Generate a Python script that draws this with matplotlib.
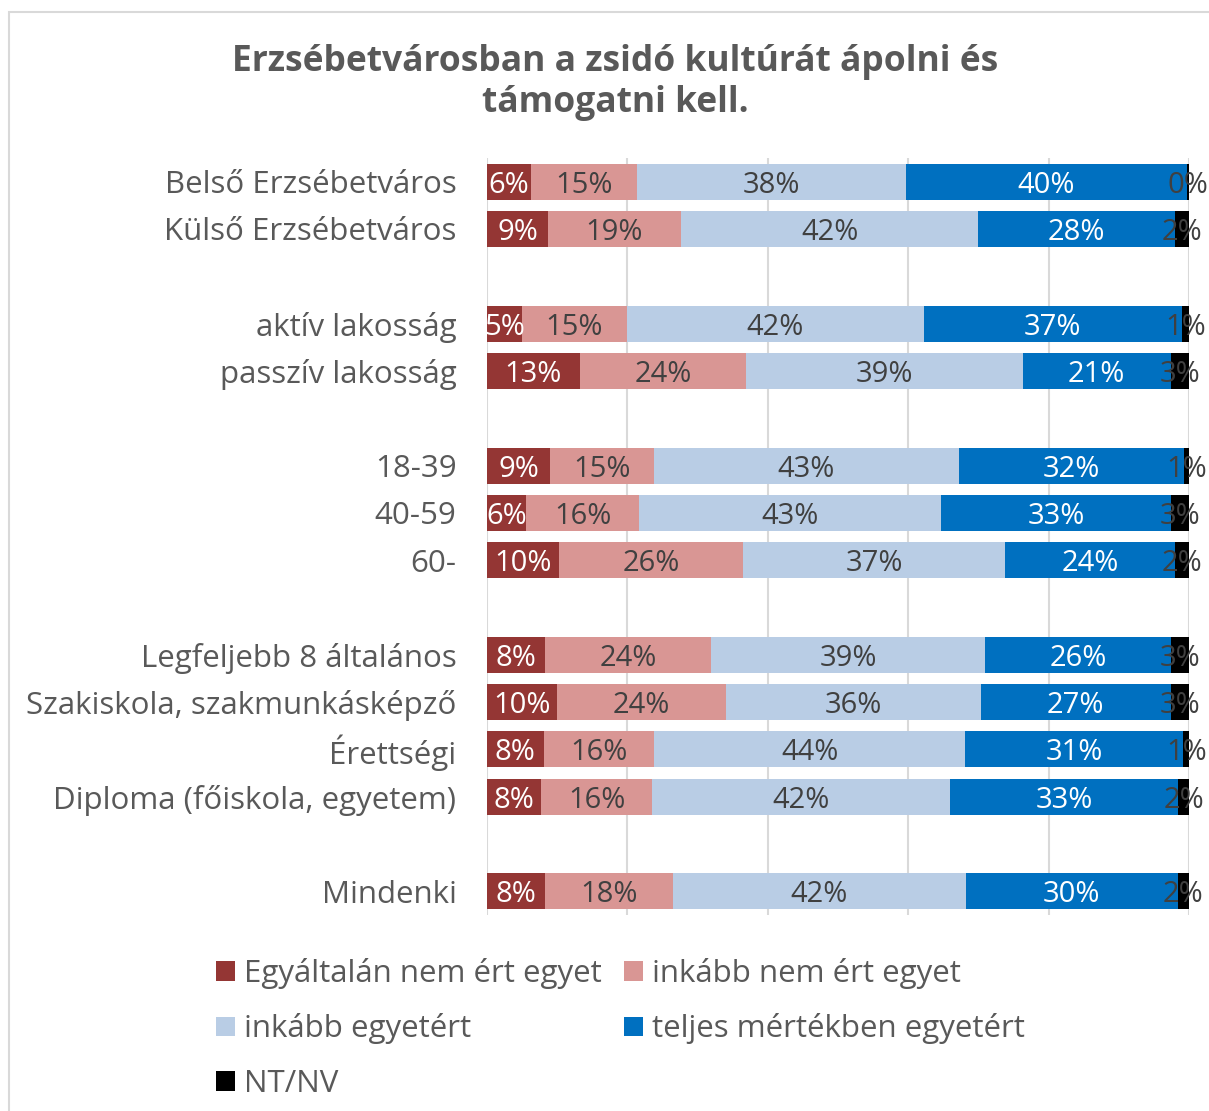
import matplotlib.pyplot as plt
from matplotlib.patches import Rectangle

plt.rcParams['font.family'] = ['Open Sans', 'DejaVu Sans']

# categories, top to bottom, with their row slots (gaps between groups)
categories = ['Belső Erzsébetváros', 'Külső Erzsébetváros',
              'aktív lakosság', 'passzív lakosság',
              '18-39', '40-59', '60-',
              'Legfeljebb 8 általános', 'Szakiskola, szakmunkásképző',
              'Érettségi', 'Diploma (főiskola, egyetem)',
              'Mindenki']
rows = [0, 1, 3, 4, 6, 7, 8, 10, 11, 12, 13, 15]

series = ['Egyáltalán nem ért egyet', 'inkább nem ért egyet',
          'inkább egyetért', 'teljes mértékben egyetért', 'NT/NV']

nem_egyaltalan = [6.3, 8.7, 5.0, 13.2, 9.0, 5.6, 10.3, 8.3, 10.0, 8.1, 7.7, 8.3]
inkabb_nem = [15.1, 18.9, 14.9, 23.7, 14.8, 16.1, 26.2, 23.6, 24.0, 15.7, 15.8, 18.2]
inkabb_igen = [38.3, 42.4, 42.3, 39.4, 43.4, 43.0, 37.3, 39.1, 36.3, 44.3, 42.4, 41.7]
teljesen = [40.0, 28.0, 36.8, 21.1, 32.1, 32.7, 24.2, 26.4, 27.1, 31.1, 32.6, 30.2]
nt_nv = [0.3, 2.0, 1.0, 2.6, 0.7, 2.6, 2.0, 2.6, 2.6, 0.9, 1.5, 1.6]

colors = ['#943634', '#D99694', '#B9CDE5', '#0070C0', '#000000']
text_colors = ['white', '#404040', '#404040', 'white', '#404040']
grey = '#595959'

fig = plt.figure(figsize=(12.09, 11.11), dpi=100)
ax = fig.add_axes([487 / 1209, 1 - 915 / 1111, 702 / 1209, 757 / 1111])

data = [nem_egyaltalan, inkabb_nem, inkabb_igen, teljesen, nt_nv]
left = [0.0] * len(categories)
handles = []
for k, vals in enumerate(data):
    bars = ax.barh(rows, vals, left=left, height=0.76, color=colors[k],
                   linewidth=0, label=series[k], zorder=2)
    handles.append(bars)
    for r, v, l in zip(rows, vals, left):
        ax.text(l + v / 2, r, f'{round(v)}%', ha='center', va='center_baseline',
                fontsize=21, color=text_colors[k], zorder=3)
    left = [a + b for a, b in zip(left, vals)]

ax.set_xlim(0, 100)
ax.set_ylim(15.5, -0.5)
ax.set_xticks([0, 20, 40, 60, 80, 100])
ax.xaxis.grid(True, color='#d9d9d9', linewidth=1.5, zorder=0)
ax.tick_params(axis='x', length=0, labelbottom=False)
ax.set_yticks(rows)
ax.set_yticklabels(categories, fontsize=22.5, color=grey, va='center_baseline')
ax.tick_params(axis='y', length=0, pad=22)
for s in ax.spines.values():
    s.set_visible(False)

fig.text(0.509, 0.926, 'Erzsébetvárosban a zsidó kultúrát ápolni és\ntámogatni kell.',
         ha='center', va='center', fontsize=25.5, fontweight='bold', color=grey,
         linespacing=1.2)

order = [0, 2, 4, 1, 3]
fig.legend([handles[i] for i in order], [series[i] for i in order],
           loc='upper left', bbox_to_anchor=(188 / 1209, 1 - 930 / 1111),
           ncol=2, frameon=False, fontsize=22.5, labelcolor=grey,
           handlelength=0.6, handleheight=0.6, handletextpad=0.3,
           columnspacing=0.7, labelspacing=0.78)

fig.patches.append(Rectangle((9 / 1209, -0.1), 1.2, 1 - 12 / 1111 + 0.1,
                             transform=fig.transFigure, fill=False,
                             edgecolor='#d9d9d9', linewidth=1.5))

fig.savefig('out.png', dpi=100)
